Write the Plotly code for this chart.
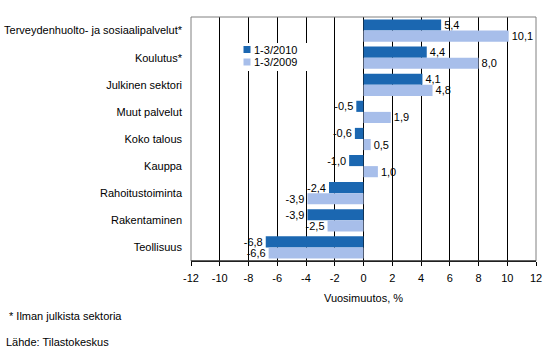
import plotly.graph_objects as go

categories = ["Terveydenhuolto- ja sosiaalipalvelut*", "Koulutus*", "Julkinen sektori",
              "Muut palvelut", "Koko talous", "Kauppa", "Rahoitustoiminta",
              "Rakentaminen", "Teollisuus"]
values_2010 = [5.4, 4.4, 4.1, -0.5, -0.6, -1.0, -2.4, -3.9, -6.8]
values_2009 = [10.1, 8.0, 4.8, 1.9, 0.5, 1.0, -3.9, -2.5, -6.6]
series_names = ["1-3/2010", "1-3/2009"]
series_colors = ["#1B67B1", "#A7BEEA"]
tick_vals = [-12, -10, -8, -6, -4, -2, 0, 2, 4, 6, 8, 10, 12]
tick_text = ["-12", "-10", "-8", "-6", "-4", "-2", "0", "2", "4", "6", "8", "10", "12"]

def fmt(v):
    return f"{v:.1f}".replace(".", ",")

FONT = "Liberation Sans, Arial, sans-serif"
L, R, T, B = 191, 15, 17, 94
W, H = 551, 355
PW, PH = W - L - R, H - T - B

def px_x(x):
    return (x - L) / PW

def px_y(y):
    return (H - B - y) / PH

fig = go.Figure()
for name, vals, col in zip(series_names, [values_2010, values_2009], series_colors):
    fig.add_trace(go.Bar(
        y=categories, x=vals, orientation="h", name=name,
        marker=dict(color=col, line=dict(width=0)),
        text=[fmt(v) for v in vals], textposition="outside",
        textfont=dict(family=FONT, size=11, color="black"),
        constraintext="none",
        cliponaxis=False,
        showlegend=False,
    ))

shapes = [
    dict(type="rect", xref="paper", yref="paper", x0=0, x1=1, y0=0, y1=1,
         line=dict(color="#808080", width=1), layer="above"),
    dict(type="line", xref="paper", yref="paper", x0=0, x1=1, y0=0, y1=0,
         line=dict(color="black", width=1), layer="above"),
    # legend box background
    dict(type="rect", xref="paper", yref="paper", x0=px_x(237), x1=px_x(318),
         y0=px_y(71), y1=px_y(43), fillcolor="white", line=dict(width=0),
         layer="above"),
]
annotations = [
    dict(text="* Ilman julkista sektoria", xref="paper", yref="paper",
         x=px_x(7), y=px_y(316), xanchor="left", yanchor="middle",
         showarrow=False, font=dict(family=FONT, size=11, color="black")),
    dict(text="Lähde: Tilastokeskus", xref="paper", yref="paper",
         x=px_x(4), y=px_y(342), xanchor="left", yanchor="middle",
         showarrow=False, font=dict(family=FONT, size=11, color="black")),
]
for i, (name, col) in enumerate(zip(series_names, series_colors)):
    yc = 49.5 + i * 12.5
    shapes.append(dict(type="rect", xref="paper", yref="paper",
                       x0=px_x(243.5), x1=px_x(250.5), y0=px_y(yc + 3.5), y1=px_y(yc - 3.5),
                       fillcolor=col, line=dict(width=0), layer="above"))
    annotations.append(dict(text=name, xref="paper", yref="paper",
                            x=px_x(252), y=px_y(yc), xanchor="left", yanchor="middle",
                            showarrow=False, font=dict(family=FONT, size=11, color="black")))

fig.update_layout(
    width=W, height=H,
    margin=dict(l=L, r=R, t=T, b=B, autoexpand=False),
    paper_bgcolor="white", plot_bgcolor="white",
    barmode="group", bargap=0.18, bargroupgap=0,
    font=dict(family=FONT, size=11, color="black"),
    showlegend=False,
    xaxis=dict(range=[-12, 12], tickvals=tick_vals, ticktext=tick_text,
               automargin=False, ticklabelstandoff=3,
               showgrid=True, gridcolor="black", gridwidth=1,
               zeroline=True, zerolinecolor="black", zerolinewidth=1,
               showline=True, linecolor="black", linewidth=1,
               ticks="outside", ticklen=4, tickcolor="black",
               tickfont=dict(family=FONT, size=11, color="black"),
               title=dict(text="Vuosimuutos, %", standoff=11,
                          font=dict(family=FONT, size=11, color="black"))),
    yaxis=dict(autorange="reversed", showgrid=False, ticks="",
               automargin=False, ticklabelstandoff=8,
               tickfont=dict(family=FONT, size=11, color="black")),
    shapes=shapes,
    annotations=annotations,
)

fig.write_html("out.html", config={"displayModeBar": False},
               post_script="document.body.style.margin='0';")
